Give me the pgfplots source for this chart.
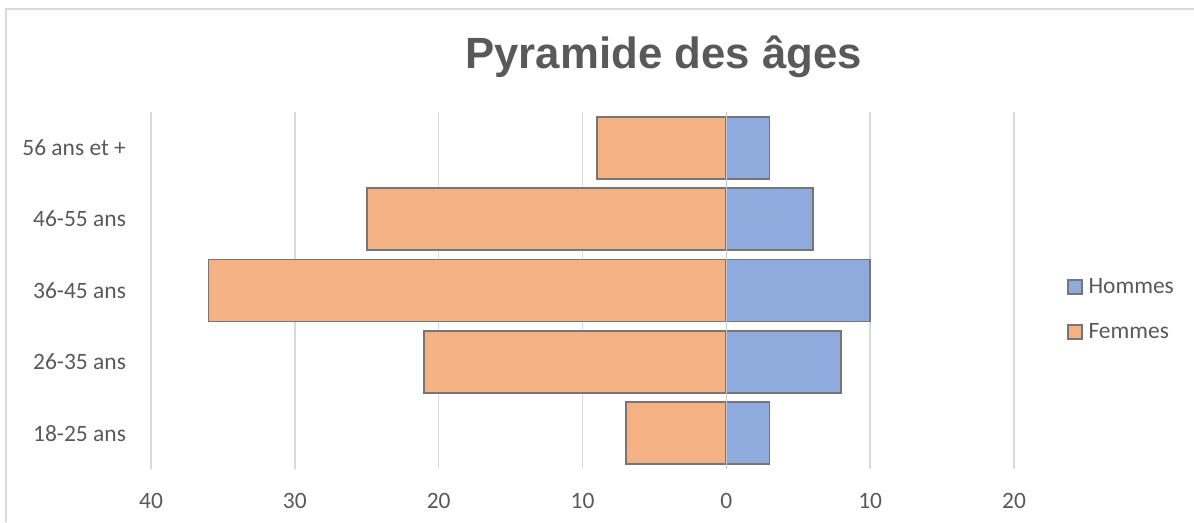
\documentclass[border=0pt]{standalone}
\usepackage{fontspec}
\setmainfont{Carlito}
\newfontfamily\titlefont{Liberation Sans}
\usepackage{pgfplots}
\pgfplotsset{compat=1.18}
\definecolor{txt}{HTML}{595959}
\definecolor{gridc}{HTML}{D9D9D9}
\definecolor{femmes}{HTML}{F4B183}
\definecolor{hommes}{HTML}{8FAADC}
\definecolor{edge}{HTML}{767676}
\begin{document}
\begin{tikzpicture}
\useasboundingbox (0pt,0pt) rectangle (895.5pt,-391.5pt);
\draw[gridc, line width=1.2pt] (4.5pt,-391.5pt) -- (4.5pt,-6.75pt) -- (895.5pt,-6.75pt);
\node[anchor=base east, inner sep=0pt, text=txt, font=\titlefont\bfseries\fontsize{32.8}{36}\selectfont] at (646.5pt,-51.2pt) {Pyramide des âges};
\begin{axis}[
  at={(113.25pt,-351.75pt)}, anchor=south west,
  scale only axis, width=647.25pt, height=267.75pt,
  xbar, bar width=46.5pt, bar shift=0pt,
  xmin=-40, xmax=20, ymin=-0.5, ymax=4.5,
  xtick={-40,-30,-20,-10,0,10,20},
  ytick={0,1,2,3,4},
  yticklabels={18-25 ans,26-35 ans,36-45 ans,46-55 ans,56 ans et +},
  xticklabel={\pgfmathparse{abs(\tick)}\pgfmathprintnumber{\pgfmathresult}},
  /pgf/number format/assume math mode=true,
  tick style={draw=none},
  axis line style={draw=none},
  xmajorgrids, grid style={gridc, line width=1.1pt},
  ticklabel style={text=txt, font=\fontsize{17.6}{20}\selectfont},
  xticklabel style={anchor=base, yshift=-29.25pt},
  yticklabel style={anchor=east, xshift=-11pt},
  legend image code/.code={\draw[#1, line width=1.3pt] (0pt,-5.25pt) rectangle (10.5pt,5.25pt);},
  legend style={at={(1.057,0.55)}, anchor=north west, draw=none, fill=none,
    font=\fontsize{17.6}{20}\selectfont, text=txt, row sep=17pt,
    /tikz/every odd column/.append style={column sep=2pt}},
  legend cell align=left,
]
\addplot[fill=hommes, draw=edge, line width=1.4pt] coordinates {(3,0) (8,1) (10,2) (6,3) (3,4)};
\addlegendentry{Hommes}
\addplot[fill=femmes, draw=edge, line width=1.4pt] coordinates {(-7,0) (-21,1) (-36,2) (-25,3) (-9,4)};
\addlegendentry{Femmes}
\draw[gridc!80!gray, line width=1.1pt] (axis cs:0,-0.5) -- (axis cs:0,4.5);
\end{axis}
\end{tikzpicture}
\end{document}
